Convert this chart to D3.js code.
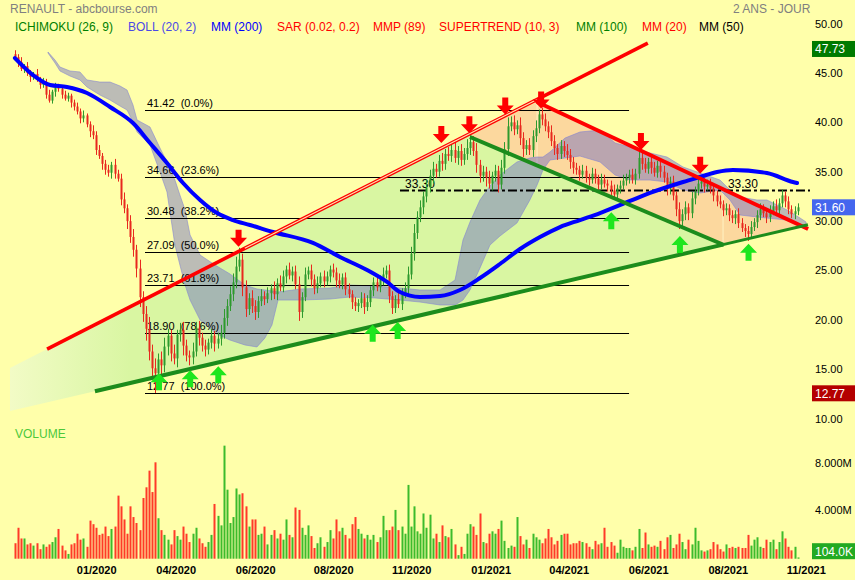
<!DOCTYPE html>
<html><head><meta charset="utf-8">
<script src="https://cdn.jsdelivr.net/npm/d3@7/dist/d3.min.js"></script>
<style>html,body{margin:0;padding:0;background:#ffffaa;overflow:hidden}text{font-family:"Liberation Sans",Arial,sans-serif}</style>
</head><body>
<svg id="chart" width="855" height="580"></svg>
<script>
// ---------- DATA (2-session periods) ----------
const closes = [
46.8,46.3,45.6,45.9,45.2,44.8,45.1,44.5,44.0,44.3,
43.0,42.4,43.3,43.8,43.6,43.0,42.6,42.9,42.2,41.8,
41.3,40.6,40.9,40.0,39.3,38.9,37.4,36.8,36.0,35.4,
35.1,35.9,35.0,34.5,32.4,31.5,30.2,28.6,27.3,25.4,
22.5,20.8,19.3,17.0,15.3,14.8,16.2,15.6,17.5,18.6,
16.8,16.3,18.7,19.2,17.6,16.6,16.4,17.0,19.4,18.4,
17.6,17.2,17.9,18.6,17.8,18.3,18.9,20.4,21.6,22.8,
24.0,25.6,26.3,23.5,21.3,22.4,21.6,21.0,22.1,22.6,
22.3,22.9,23.4,22.8,23.9,23.5,24.6,25.3,24.7,25.1,
23.8,21.0,22.5,24.8,25.2,24.3,23.4,23.9,24.6,24.1,
24.6,25.3,25.0,24.2,23.8,24.5,23.3,22.8,22.0,21.6,
21.9,22.4,21.5,22.0,23.2,24.0,23.5,24.3,24.8,25.2,
22.6,21.4,22.3,21.8,22.9,23.4,24.8,26.9,29.0,30.6,
31.6,32.7,33.6,34.8,35.5,35.2,36.3,36.0,37.0,36.8,
37.4,36.6,37.3,36.4,37.0,37.6,38.2,37.3,35.9,34.8,
35.2,34.6,34.0,34.8,35.3,33.9,35.6,37.5,39.8,40.2,
39.5,39.9,38.6,37.5,37.9,37.4,38.8,39.6,41.0,40.5,
39.8,39.2,38.3,37.6,37.0,37.8,37.3,36.9,36.2,35.6,
35.4,34.9,35.3,34.6,34.4,35.0,34.5,33.9,34.4,34.0,
33.8,33.3,32.9,33.5,33.8,34.3,34.6,34.9,34.4,35.0,
36.6,36.0,35.5,36.2,35.6,35.1,35.8,35.2,34.6,33.5,
34.2,32.8,31.4,30.2,30.9,31.6,31.0,32.5,33.2,34.0,
34.2,33.7,33.9,33.5,32.8,32.2,31.9,31.3,31.5,30.8,
30.5,30.9,30.0,29.5,29.2,28.9,29.6,30.1,30.8,31.4,
31.0,30.6,31.2,31.7,31.3,32.0,32.8,32.2,31.4,30.9,31.2,31.6];
// wick lengths beyond the body, tenths of a euro
const wickUp = [
4,3,5,2,4,3,2,5,3,4, 3,5,2,4,3,2,4,3,2,3, 4,3,5,2,3,6,4,5,3,4, 5,3,6,4,5,7,4,6,8,5,
9,6,8,12,7,10,6,8,9,7, 6,9,5,7,8,6,5,9,6,7, 5,6,4,7,5,6,8,9,7,8, 9,10,12,6,7,5,8,6,5,7,
5,6,4,7,5,8,6,4,7,5, 6,8,5,7,4,6,5,7,4,6, 5,4,6,5,7,4,5,6,4,5, 4,6,5,7,4,5,6,4,7,5,
6,5,4,7,5,6,8,7,9,6, 7,5,8,6,7,5,6,8,5,7, 6,8,5,7,6,9,7,6,8,5, 6,5,7,4,6,5,8,7,9,6,
7,5,8,6,5,7,6,8,5,7, 6,5,7,6,4,6,5,7,6,5, 5,4,6,5,4,6,5,4,6,5, 4,5,6,4,5,6,4,5,6,5,
7,5,6,4,5,6,5,4,6,5, 5,6,4,7,5,6,4,7,5,8, 6,4,5,6,4,5,6,4,5,4, 5,4,6,5,4,5,6,4,5,6,
5,4,6,5,7,5,6,4,5,4, 5,4];
const wickDn = [
3,5,2,4,3,5,3,2,4,3, 4,2,3,5,3,4,2,3,5,4, 3,5,4,3,6,4,5,3,6,5, 4,6,5,3,6,5,8,6,7,9,
10,8,12,9,11,20,8,10,7,9, 8,6,9,7,10,6,8,7,5,8, 6,7,5,6,8,5,7,6,8,5, 7,6,5,9,8,6,7,8,6,5,
6,4,7,5,6,4,5,7,4,6, 5,9,6,4,5,7,6,5,4,6, 4,6,5,7,4,5,6,4,7,5, 6,5,7,4,5,6,4,5,6,4,
7,6,5,4,6,5,6,5,7,6, 5,7,6,5,8,6,5,7,6,5, 6,5,7,6,5,6,7,5,8,7, 6,9,5,7,6,8,5,6,7,5,
6,5,7,8,6,5,7,6,5,6, 5,6,5,7,6,5,6,5,7,6, 5,6,4,5,6,4,5,6,5,4, 6,5,4,6,5,4,5,6,4,5,
5,6,4,5,6,4,5,6,5,7, 6,5,7,8,5,6,7,5,6,4, 5,6,4,5,6,5,4,6,5,6, 5,6,5,4,6,7,5,4,6,5,
4,6,5,4,6,5,4,6,5,4, 5,4];
// volume per period, millions
const volumes = [
1.3,2.6,1.7,1.7,1.2,1.3,1.1,1.3,0.8,1.2, 1.0,1.2,1.4,1.8,2.5,1.1,0.7,0.4,1.2,1.3,
2.1,1.6,1.7,1.0,3.2,2.9,2.6,2.0,2.1,2.7, 1.9,2.5,2.7,5.3,4.4,3.3,2.1,4.4,3.5,3.0,
2.4,5.1,6.0,7.4,5.6,8.1,3.4,2.4,2.0,1.6, 1.2,2.4,1.9,1.6,2.7,2.1,1.4,2.1,2.6,1.7,
1.3,1.0,1.4,2.0,4.6,3.6,2.8,9.5,5.8,3.0, 3.5,5.9,5.4,5.5,4.4,2.7,3.3,3.3,2.0,2.1,
2.7,1.2,2.0,2.4,1.7,2.1,1.6,3.3,2.0,1.8, 4.3,4.1,2.6,2.0,2.8,1.9,0.9,1.3,1.8,1.0,
1.4,2.4,1.7,3.3,2.3,2.6,2.0,1.7,2.9,3.5, 2.5,2.1,1.7,2.0,1.6,2.0,1.4,1.8,3.6,2.4,
2.4,2.7,4.1,2.4,2.7,2.1,6.2,2.7,4.4,2.3, 2.1,3.8,2.6,3.7,1.7,2.1,1.4,2.8,1.9,1.8,
2.5,1.2,0.3,1.0,0.4,2.1,2.9,2.7,2.0,3.8, 1.4,1.3,2.1,2.3,2.1,2.5,3.2,1.5,0.9,1.1,
1.0,3.5,1.9,1.2,1.6,0.9,2.1,1.8,1.6,1.3, 1.7,2.5,1.8,1.2,1.5,2.0,2.1,2.1,1.2,1.3,
1.3,1.5,1.4,1.3,1.0,0.8,1.5,1.2,1.3,2.6, 1.0,1.4,1.1,0.5,1.6,1.0,0.9,0.9,0.7,1.0,
2.5,0.9,2.2,1.2,1.0,1.1,1.0,1.5,0.8,1.8, 2.0,0.9,1.2,2.1,1.4,0.8,1.6,1.2,2.6,1.5,
0.7,0.6,0.7,0.8,1.4,1.2,0.8,0.6,1.2,0.9, 1.0,0.9,1.0,0.9,0.9,2.0,1.1,1.6,1.8,1.0,
0.9,1.6,1.4,1.6,0.8,1.4,2.3,1.7,1.0,0.7,1.0,0.104];

// MA(200) samples (daily bar index, price)
const ma200Idx = [0.6,12.2,23.1,34.0,46.8,61.6,76.3,87.2,98.1,108.4,119.3,130.2,140.4,151.3,166.1,191.7,209.0,226.4,239.2,247.5,260.3,273.2,286.0,298.8,311.6,324.5,337.3,350.1,362.9,375.8,395.0,407.8,429.0,439.9,450.8,461.0,482.8,499.5,502.1];
const ma200Val = [46.71,44.99,43.98,43.78,43.17,41.75,40.13,38.11,36.08,34.06,32.34,31.02,30.31,29.81,29.10,27.99,26.57,25.25,24.04,23.02,22.52,22.62,23.23,24.44,25.86,27.38,28.59,29.60,30.31,31.02,32.24,33.05,34.16,34.67,35.17,35.37,35.07,34.16,34.06];

// Ichimoku cloud samples (bar index, span A, span B)
const cloudIdx = [21.8,26.3,29.5,35.9,42.3,46.8,55.1,61.6,68.0,72.5,76.3,78.9,87.2,93.6,98.1,103.2,106.4,109.7,112.9,119.3,128.9,138.5,148.1,155.8,160.9,165.4,169.3,183.4,202.6,215.5,231.5,247.5,260.3,273.2,282.8,287.9,292.4,298.8,305.2,311.6,322.5,330.8,335.4,339.2,343.7,353.3,362.9,375.8,385.4,395.0,407.8,418.7,429.0,439.9,452.7,459.1,465.5,476.4,482.8,495.7,504.0,507.9];
const cloudA = [47.32,46.51,45.80,45.40,45.30,44.49,44.28,44.28,43.88,43.47,41.96,40.44,39.73,37.60,36.19,34.36,32.84,31.33,28.80,26.77,25.76,24.85,23.73,23.33,23.23,23.13,23.02,23.33,23.43,23.73,23.63,23.43,23.23,23.23,24.24,28.29,30.11,32.34,33.75,34.87,36.19,36.59,36.69,36.69,37.20,38.61,39.22,39.42,38.11,37.70,37.10,36.69,35.68,35.07,34.36,33.35,32.64,32.34,32.34,31.33,30.52,30.11];
const cloudB = [47.22,46.21,45.40,44.89,44.49,43.78,42.97,42.46,41.85,41.45,40.24,39.22,37.91,35.17,33.15,27.78,25.76,23.73,22.21,20.19,18.87,18.16,17.66,17.46,18.37,19.68,22.21,22.21,22.31,22.52,22.42,22.21,22.01,21.71,21.71,22.21,23.23,25.46,27.78,28.69,30.01,32.34,33.86,35.38,36.39,36.59,36.79,36.19,34.87,34.36,34.36,34.16,33.35,33.05,33.35,32.34,30.82,30.62,30.51,30.31,29.71,29.71];

// Fibonacci retracement
const fibValues = [41.42,34.66,30.48,27.09,23.71,18.90,12.77];
const fibLabels = ["41.42  (0.0%)","34.66  (23.6%)","30.48  (38.2%)","27.09  (50.0%)","23.71  (61.8%)","18.90  (78.6%)","12.77  (100.0%)"];
const fibRange = [84, 394.4];

// trend lines: [bar index, price]
const redRise   = [[21.2,17.25],[406.4,48.23]];
const redFall   = [[335.4,42.26],[509.2,29.40]];
const greenRise = [[51.9,12.98],[509.1,29.83]];
const greenFall = [[292.4,38.72],[455.3,27.78]];
const levelValue = 33.30, levelRange = [247.5, 510.4], levelLabelIdx = [250.7, 457.8];

// signals
const sellIdx = [144,274,292,315,338,402,440];
const sellPrice = [27.6,38.1,39.1,41.0,41.6,37.4,35.0];
const buyIdx = [93,113,131,230,246,383,427,471];
const buyPrice = [14.8,15.1,15.5,19.7,20.0,31.1,28.7,27.9];

// axes
const priceTicks = [50,45,40,35,30,25,20,15,10];
const volTicks = [8,4];
const dateTickIdx = [53,104,155,205,255,306,356,407,458,508];
const dateTickLabels = ["01/2020","04/2020","06/2020","08/2020","11/2020","01/2021","04/2021","06/2021","08/2021","11/2021"];
const lastPrice = 31.60, highPrice = 47.73, lowPrice = 12.77, lastVolumeLabel = "104.0K";

const legendItems = [
 {t:"ICHIMOKU (26, 9)", c:"#008000", x:15},
 {t:"BOLL (20, 2)", c:"#4a4ae6", x:128},
 {t:"MM (200)", c:"#0000ff", x:211},
 {t:"SAR (0.02, 0.2)", c:"#ff0000", x:277},
 {t:"MMP (89)", c:"#ff0000", x:373},
 {t:"SUPERTREND (10, 3)", c:"#ff0000", x:439},
 {t:"MM (100)", c:"#008000", x:576},
 {t:"MM (20)", c:"#ff0000", x:642},
 {t:"MM (50)", c:"#000000", x:699}];

// ---------- DRAWING ----------
const svg = d3.select('#chart');
const x = d3.scaleLinear().domain([0,504]).range([14,800]);
const y = d3.scaleLinear().domain([12.77,41.42]).range([393.3,110.3]);
const yv = d3.scaleLinear().domain([0,8]).range([558.7,463.5]);
const P = d => [x(d[0]), y(d[1])];

svg.append('rect').attr('width',855).attr('height',580).attr('fill','#ffffaa');

const defs = svg.append('defs');
const g1 = defs.append('linearGradient').attr('id','gz').attr('gradientUnits','userSpaceOnUse')
  .attr('x1',10).attr('x2',130).attr('y1',0).attr('y2',0);
g1.append('stop').attr('offset',0).attr('stop-color','#f2fbc6');
g1.append('stop').attr('offset',1).attr('stop-color','#d9f6a2');

function at(L,i){return L[0][1]+(L[1][1]-L[0][1])*(i-L[0][0])/(L[1][0]-L[0][0]);}
function cross(L1,L2){
  const s1=(L1[1][1]-L1[0][1])/(L1[1][0]-L1[0][0]);
  const s2=(L2[1][1]-L2[0][1])/(L2[1][0]-L2[0][0]);
  const i=(L2[0][1]-L1[0][1]+s1*L1[0][0]-s2*L2[0][0])/(s1-s2);
  return [i, L1[0][1]+s1*(i-L1[0][0])];
}
const leftI = x.invert(10);
const V = cross(greenFall, greenRise);
const E = cross(redFall, greenRise);
const P1 = [greenFall[0][0], at(redRise, greenFall[0][0])];
const apex = redFall[0];
const poly = pts => pts.map(P).map(p=>p.join(',')).join(' ');

svg.append('polygon').attr('points', poly([[leftI,at(redRise,leftI)], P1, greenFall[0], V, [leftI,at(greenRise,leftI)]]))
  .attr('fill','url(#gz)');
svg.append('polygon').attr('points', poly([P1, apex, E, V, greenFall[0]])).attr('fill','#fcd89e');
// thin triangle separators
svg.append('line').attr('x1',x(apex[0])).attr('x2',x(apex[0])).attr('y1',y(apex[1])).attr('y2',y(at(greenFall,apex[0])))
  .attr('stroke','#fff2c4').attr('stroke-width',1);
svg.append('line').attr('x1',x(V[0])).attr('x2',x(V[0])).attr('y1',y(at(redFall,V[0]))).attr('y2',y(V[1]))
  .attr('stroke','#fff2c4').attr('stroke-width',1);

// Ichimoku cloud
const cloud = cloudIdx.map((d,i)=>({i:d,a:cloudA[i],b:cloudB[i]}));
svg.append('path').datum(cloud)
  .attr('d', d3.area().x(d=>x(d.i)).y0(d=>y(d.b)).y1(d=>y(d.a)))
  .attr('fill','rgba(95,95,200,0.42)').attr('stroke','rgba(130,130,210,0.7)').attr('stroke-width',0.8);

// Fibonacci lines
const fg = svg.append('g');
fibValues.forEach((v,j)=>{
  fg.append('line').attr('x1',x(fibRange[0])).attr('x2',x(fibRange[1])).attr('y1',Math.round(y(v))+0.5).attr('y2',Math.round(y(v))+0.5)
    .attr('stroke','#000').attr('stroke-width',1);
  fg.append('text').attr('x',x(fibRange[0])+2).attr('y',y(v)-3).attr('font-size',11).attr('fill','#000')
    .style('white-space','pre').text(fibLabels[j]);
});

// level 33.30
svg.append('line').attr('x1',x(levelRange[0])).attr('x2',x(levelRange[1])).attr('y1',y(levelValue)).attr('y2',y(levelValue))
  .attr('stroke','#000').attr('stroke-width',2).attr('stroke-dasharray','9,3,3,3');
levelLabelIdx.forEach(i=>svg.append('text').attr('x',x(i)).attr('y',y(levelValue)-3).attr('font-size',12).attr('fill','#000').text(levelValue.toFixed(2)));

// candles
const candles = closes.map((c,k)=>{
  const o = k===0 ? c+0.3 : closes[k-1];
  return {k, o, c, h:Math.max(o,c)+(wickUp[k]||4)/10, l:Math.min(o,c)-(wickDn[k]||4)/10, v:volumes[k]||0};
});
const cx = k => x(2*k+0.5);
const UP='#2e9a2e', DN='#e8281e';
const cg = svg.append('g');
candles.forEach(d=>{
  const col = d.c>=d.o?UP:DN;
  const X = Math.round(cx(d.k));
  cg.append('line').attr('x1',X+0.5).attr('x2',X+0.5).attr('y1',y(d.h)).attr('y2',y(d.l)).attr('stroke',col).attr('stroke-width',1);
  const t=y(Math.max(d.o,d.c)), b=y(Math.min(d.o,d.c));
  cg.append('rect').attr('x',X-0.5).attr('width',2).attr('y',t).attr('height',Math.max(1,b-t)).attr('fill',col);
});

// MA 200
svg.append('path').datum(ma200Idx.map((d,i)=>[d,ma200Val[i]]))
  .attr('d', d3.line().x(d=>x(d[0])).y(d=>y(d[1])).curve(d3.curveMonotoneX))
  .attr('fill','none').attr('stroke','#0000ff').attr('stroke-width',4).attr('stroke-linecap','round');

// trend lines
const seg = (L,col,w)=>svg.append('line').attr('x1',x(L[0][0])).attr('y1',y(L[0][1])).attr('x2',x(L[1][0])).attr('y2',y(L[1][1]))
  .attr('stroke',col).attr('stroke-width',w);
seg(redRise,'#ff0000',3.6);
seg([[148,at(redRise,148)],[apex[0],at(redRise,apex[0])]],'#ffe6b0',1.1);
seg(redFall,'#ff0000',4);
seg([greenRise[0],V],'#1c8c1c',4);
seg([V,greenRise[1]],'#1c8c1c',3);
seg(greenFall,'#1c8c1c',4);

// arrows
const ag = svg.append('g');
sellIdx.forEach((i,j)=>{
  const tx=x(i), ty=y(sellPrice[j]);
  ag.append('path').attr('d',`M${tx-3},${ty-17}L${tx+3},${ty-17}L${tx+3},${ty-9}L${tx+8.5},${ty-9}L${tx},${ty}L${tx-8.5},${ty-9}L${tx-3},${ty-9}Z`).attr('fill','#ff0000');
});
buyIdx.forEach((i,j)=>{
  const tx=x(i), ty=y(buyPrice[j]);
  ag.append('path').attr('d',`M${tx-3},${ty+17}L${tx+3},${ty+17}L${tx+3},${ty+9}L${tx+8.5},${ty+9}L${tx},${ty}L${tx-8.5},${ty+9}L${tx-3},${ty+9}Z`).attr('fill','#1ee61e');
});

// volume
const vg = svg.append('g');
candles.forEach(d=>{
  const X = Math.round(cx(d.k));
  vg.append('rect').attr('x',X-0.5).attr('width',2).attr('y',yv(d.v)).attr('height',yv(0)-yv(d.v))
    .attr('fill', d.c>=d.o?'#3cbb2c':'#ff3a28');
});
svg.append('text').attr('x',15).attr('y',438).attr('font-size',12).attr('fill','#4cc83a').text('VOLUME');

// right axis
priceTicks.forEach(v=>svg.append('text').attr('x',815).attr('y',y(v)+2).attr('font-size',11).attr('fill','#000').text(v.toFixed(2)));
volTicks.forEach(v=>svg.append('text').attr('x',815).attr('y',yv(v)+3).attr('font-size',11).attr('fill','#000').text(v.toFixed(3)+'M'));
const badge=(yy,txt,bg)=>{
  svg.append('rect').attr('x',812).attr('y',yy-8).attr('width',43).attr('height',16).attr('fill',bg);
  svg.append('text').attr('x',815).attr('y',yy+4.5).attr('font-size',12).attr('fill','#fff').text(txt);
};
badge(y(highPrice)+1,highPrice.toFixed(2),'#007a00');
badge(y(lastPrice),lastPrice.toFixed(2),'#4466ee');
badge(y(lowPrice),lowPrice.toFixed(2),'#b40000');
badge(yv(0)-7.5,lastVolumeLabel,'#22aa22');

// date axis
dateTickIdx.forEach((i,j)=>svg.append('text').attr('x',x(i)).attr('y',574).attr('text-anchor','middle')
  .attr('font-size',11).attr('font-weight','bold').attr('fill','#000').text(dateTickLabels[j]));

// header
svg.append('text').attr('x',10).attr('y',13).attr('font-size',12).attr('fill','#808080').text('RENAULT - abcbourse.com');
svg.append('text').attr('x',733).attr('y',13).attr('font-size',12).attr('fill','#808080').text('2 ANS - JOUR');
legendItems.forEach(d=>svg.append('text').attr('x',d.x).attr('y',31).attr('font-size',12).attr('fill',d.c).text(d.t));
</script></body></html>
